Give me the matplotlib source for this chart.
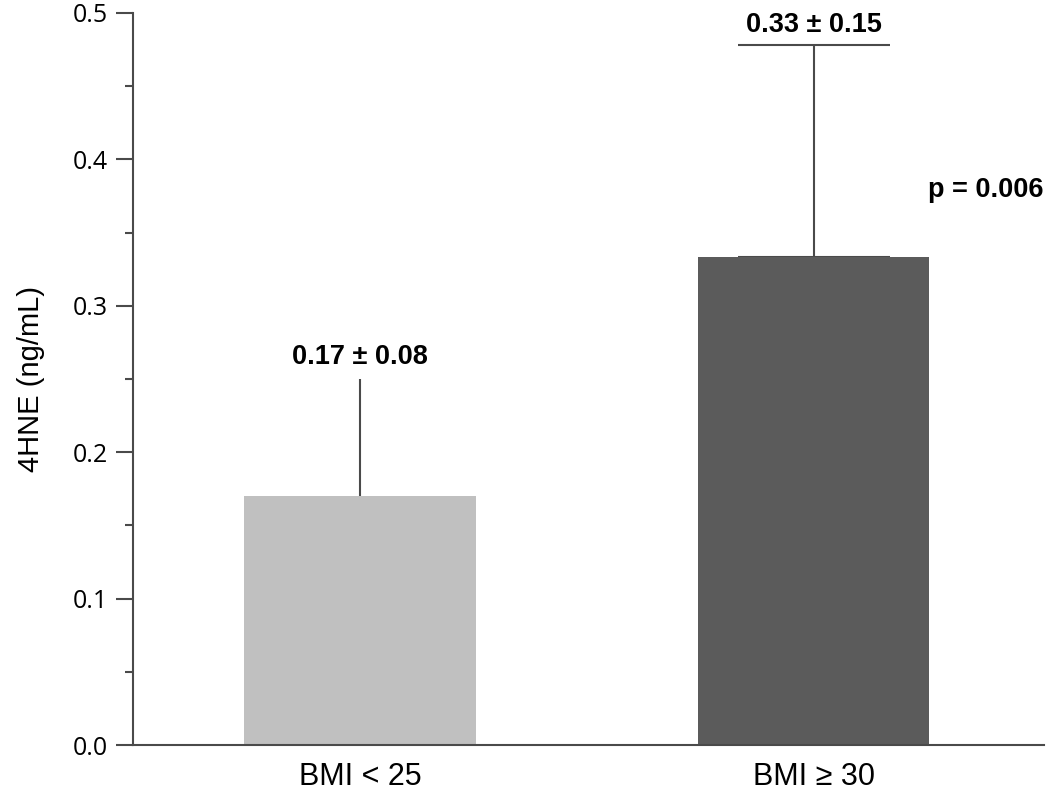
import numpy as np
import matplotlib
matplotlib.use("Agg")
import matplotlib.pyplot as plt
from matplotlib.ticker import MultipleLocator

# data
groups = ["BMI < 25", "BMI \u2265 30"]
means = [0.17, 0.333]
errs = [0.08, 0.145]
labels = ["0.17 \u00b1 0.08", "0.33 \u00b1 0.15"]
p_text = "p = 0.006"

bar_colors = ["#c0c0c0", "#5b5b5b"]
line_col = "#4a4a4a"

plt.rcParams['font.family'] = ['Liberation Sans', 'DejaVu Sans']

fig = plt.figure(figsize=(10.5, 7.92), dpi=100)
ax = fig.add_axes([0.1267, 0.0593, 0.868, 0.9243])

x = np.arange(len(groups))
ax.bar(x, means, width=0.511, color=bar_colors, zorder=2)

# error bars: only the second one has a cap
ax.errorbar(x[0], means[0], yerr=[[0], [errs[0]]], fmt="none", ecolor=line_col,
            elinewidth=1.5, capsize=0, zorder=1)
ax.errorbar(x[1], means[1], yerr=[[0], [errs[1]]], fmt="none", ecolor=line_col,
            elinewidth=1.5, capsize=55, capthick=1.5, zorder=1)

ax.text(x[0], means[0] + errs[0] + 0.015, labels[0], ha="center", va="center",
        fontsize=19.5, fontweight="bold")
ax.text(x[1], means[1] + errs[1] + 0.014, labels[1], ha="center", va="center",
        fontsize=19.5, fontweight="bold")
ax.text(1.253, 0.379, p_text, ha="left", va="center", fontsize=19.5, fontweight="bold")

ax.set_xlim(-0.5, 1.509)
ax.set_ylim(0, 0.5)
ax.set_xticks(x)
ax.set_xticklabels(groups, fontsize=22)
ax.tick_params(axis="x", length=0, pad=12)
ax.yaxis.set_major_locator(MultipleLocator(0.1))
ax.yaxis.set_minor_locator(MultipleLocator(0.05))
ax.yaxis.set_major_formatter(matplotlib.ticker.FormatStrFormatter("%.1f"))
ax.tick_params(axis="y", which="major", length=12, width=1.5, color=line_col,
               labelsize=18, pad=6)
ax.tick_params(axis="y", which="minor", length=6, width=1.5, color=line_col)
for lab in ax.get_yticklabels():
    lab.set_family(["Open Sans", "DejaVu Sans"])

ax.set_ylabel("4HNE (ng/mL)", fontsize=21, labelpad=20)

for s in ["top", "right"]:
    ax.spines[s].set_visible(False)
for s in ["left", "bottom"]:
    ax.spines[s].set_color(line_col)
    ax.spines[s].set_linewidth(1.5)

plt.savefig("out.png", dpi=100)
